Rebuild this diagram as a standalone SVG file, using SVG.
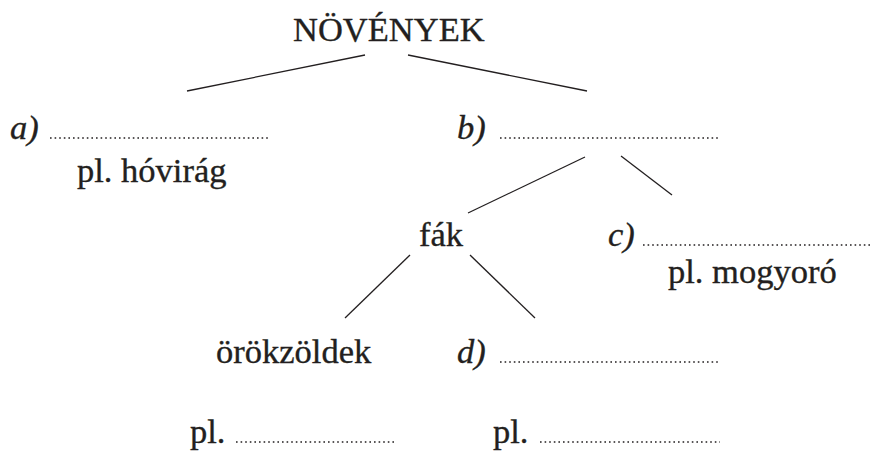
<svg xmlns="http://www.w3.org/2000/svg" width="875" height="453" viewBox="0 0 875 453">
<style>
.t{font-family:'Liberation Serif',Tinos,'Times New Roman',Times,'DejaVu Serif',serif;font-size:34.5px;fill:#231f20;stroke:#231f20;stroke-width:0.35}
.i{font-style:italic}
.dots{stroke:#231f20;stroke-width:1.6;stroke-dasharray:1.6 3}
.edge{stroke:#231f20;stroke-width:1.3;fill:none}
</style>
<rect width="875" height="453" fill="#fff"/>
<g id="connectors">
<line class="edge" x1="187" y1="91" x2="365" y2="55"/>
<line class="edge" x1="408" y1="55" x2="587" y2="91"/>
<line class="edge" x1="585" y1="157" x2="468" y2="213"/>
<line class="edge" x1="621" y1="156" x2="672" y2="195"/>
<line class="edge" x1="410" y1="255" x2="345" y2="318"/>
<line class="edge" x1="470" y1="255" x2="535" y2="318"/>
</g>
<g id="root"><text class="t" x="293" y="41">NÖVÉNYEK</text></g>
<g id="a">
<text class="t i" x="10" y="139">a)</text>
<line class="dots" x1="50" y1="138" x2="268" y2="138"/>
<text class="t" x="77" y="182">pl. hóvirág</text>
</g>
<g id="b">
<text class="t i" x="457" y="139">b)</text>
<line class="dots" x1="500" y1="138" x2="719" y2="138"/>
</g>
<g id="fak"><text class="t" x="419" y="246">fák</text></g>
<g id="c">
<text class="t i" x="608" y="246">c)</text>
<line class="dots" x1="643" y1="245" x2="870" y2="245"/>
<text class="t" x="668" y="283">pl. mogyoró</text>
</g>
<g id="orokzoldek">
<text class="t" x="216" y="363">örökzöldek</text>
<text class="t" x="190" y="443">pl.</text>
<line class="dots" x1="236" y1="442" x2="395" y2="442"/>
</g>
<g id="d">
<text class="t i" x="457" y="363">d)</text>
<line class="dots" x1="500" y1="362" x2="720" y2="362"/>
<text class="t" x="493" y="443">pl.</text>
<line class="dots" x1="540" y1="442" x2="720" y2="442"/>
</g>
</svg>
